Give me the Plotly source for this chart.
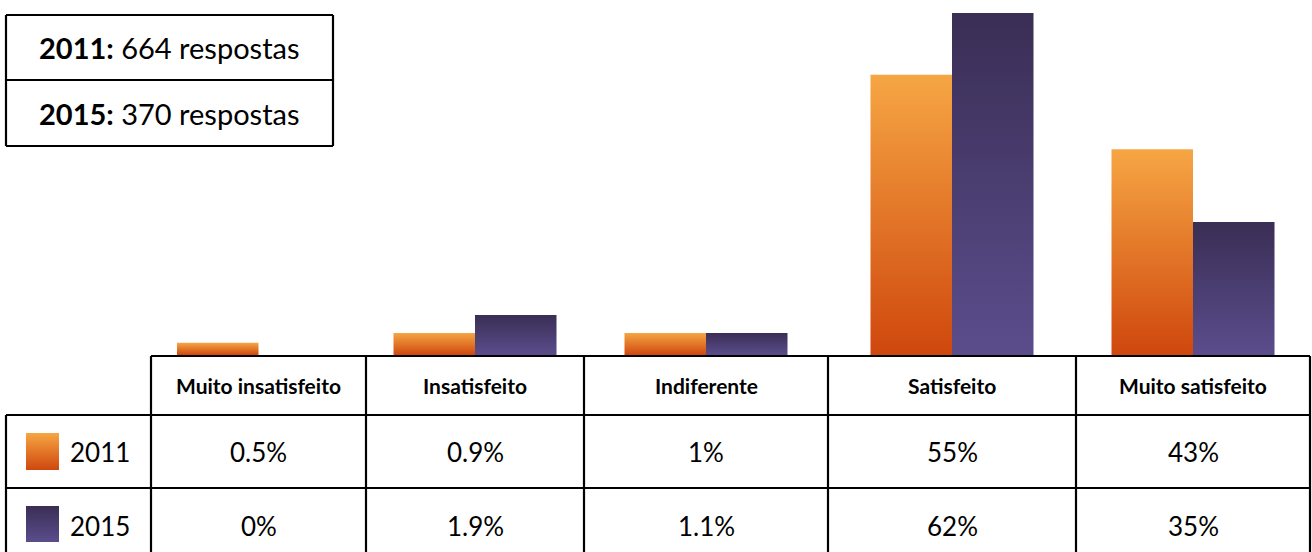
import plotly.graph_objects as go

# ---------------- data ----------------
categories = ["Muito insatisfeito", "Insatisfeito", "Indiferente", "Satisfeito", "Muito satisfeito"]
series_names = ["2011", "2015"]
# bar heights as drawn in the picture (chart units, % scale)
bars_2011 = [2.2, 4.0, 4.0, 50.8, 37.3]
bars_2015 = [0.0, 7.25, 4.0, 62.0, 24.1]
# table labels
labels_2011 = ["0.5%", "0.9%", "1%", "55%", "43%"]
labels_2015 = ["0%", "1.9%", "1.1%", "62%", "35%"]
responses = [("2011:", "664 respostas"), ("2015:", "370 respostas")]

# ---------------- layout geometry ----------------
W, H = 1312, 552
col_edges = [151, 366, 584, 828, 1076, 1310]
left_edge = 6
row_edges = [356, 415, 488, 560]
base_px = 355          # pixel row of value 0
top_px = 13            # pixel row of max value
ymax_val = 62.0
scale = (base_px - top_px) / ymax_val   # px per unit
y_lo = -(H - base_px) / scale
y_hi = base_px / scale
bar_w = 81.5

FONT = "Lato"
orange_scale = [[0, "#CF470D"], [1, "#F6A644"]]
purple_scale = [[0, "#5B4D8C"], [1, "#3A2E55"]]


def py2y(py):
    return (base_px - py) / scale


def X(px):
    return px / W


def Y(py):
    return 1 - py / H


fig = go.Figure()

centers = [(col_edges[i] + col_edges[i + 1]) / 2 for i in range(len(categories))]

for i, cat in enumerate(categories):
    c = centers[i]
    for vals, x0, x1, cs, name in [
        (bars_2011, c - bar_w, c, orange_scale, series_names[0]),
        (bars_2015, c, c + bar_w, purple_scale, series_names[1]),
    ]:
        v = vals[i]
        if v <= 0:
            continue
        fig.add_trace(go.Scatter(
            x=[x0, x1, x1, x0, x0], y=[0, 0, v, v, 0],
            mode="lines", fill="toself", line=dict(width=0),
            fillgradient=dict(type="vertical", colorscale=cs),
            hoverinfo="text", text=f"{cat} {name}", showlegend=False,
        ))

# legend swatches inside the table
for (ya, yb), cs in [((433, 470), orange_scale), ((506, 542), purple_scale)]:
    y0, y1 = py2y(yb), py2y(ya)
    fig.add_trace(go.Scatter(
        x=[26, 59, 59, 26, 26], y=[y0, y0, y1, y1, y0],
        mode="lines", fill="toself", line=dict(width=0),
        fillgradient=dict(type="vertical", colorscale=cs),
        hoverinfo="skip", showlegend=False,
    ))

shapes = []
line = dict(color="black", width=2.2)


def hline(x0, x1, y):
    shapes.append(dict(type="line", xref="paper", yref="paper",
                       x0=X(x0), x1=X(x1), y0=Y(y), y1=Y(y), line=line))


def vline(x, y0, y1):
    shapes.append(dict(type="line", xref="paper", yref="paper",
                       x0=X(x), x1=X(x), y0=Y(y0), y1=Y(y1), line=line))


# table grid
hline(col_edges[0], col_edges[-1], row_edges[0])
hline(left_edge, col_edges[-1], row_edges[1])
hline(left_edge, col_edges[-1], row_edges[2])
for xe in col_edges:
    vline(xe, row_edges[0], row_edges[3])
vline(left_edge, row_edges[1], row_edges[3])

# response box
box_x0, box_x1 = 6, 333
box_y = [15, 80, 146]
hline(box_x0, box_x1, box_y[0])
hline(box_x0, box_x1, box_y[1])
hline(box_x0, box_x1, box_y[2])
vline(box_x0, box_y[0], box_y[2])
vline(box_x1, box_y[0], box_y[2])

annotations = []
for i, (yr, txt) in enumerate(responses):
    yc = (box_y[i] + box_y[i + 1]) / 2
    annotations.append(dict(
        xref="paper", yref="paper", x=X((box_x0 + box_x1) / 2), y=Y(yc),
        text=f"<b>{yr}</b> {txt}", showarrow=False,
        font=dict(family=FONT, size=29, color="black"),
        xanchor="center", yanchor="middle"))

# header row
for i, cat in enumerate(categories):
    annotations.append(dict(
        xref="paper", yref="paper", x=X(centers[i]), y=Y((row_edges[0] + row_edges[1]) / 2),
        text=f"<b>{cat}</b>", showarrow=False,
        font=dict(family=FONT, size=21, color="black"),
        xanchor="center", yanchor="middle"))

# value rows
row_centers = [452, 526]
for r, labels in enumerate([labels_2011, labels_2015]):
    annotations.append(dict(
        xref="paper", yref="paper", x=X(68), y=Y(row_centers[r]),
        text=series_names[r], showarrow=False,
        font=dict(family=FONT, size=26, color="black"),
        xanchor="left", yanchor="middle"))
    for i, lab in enumerate(labels):
        annotations.append(dict(
            xref="paper", yref="paper", x=X(centers[i]), y=Y(row_centers[r]),
            text=lab, showarrow=False,
            font=dict(family=FONT, size=26, color="black"),
            xanchor="center", yanchor="middle"))

fig.update_layout(
    width=W, height=H, margin=dict(l=0, r=0, t=0, b=0),
    paper_bgcolor="white", plot_bgcolor="white",
    xaxis=dict(range=[0, W], visible=False, fixedrange=True),
    yaxis=dict(range=[y_lo, y_hi], visible=False, fixedrange=True),
    shapes=shapes, annotations=annotations, showlegend=False,
)

fig.write_html("out.html", config={"displayModeBar": False},
               post_script="document.body.style.margin='0';")
